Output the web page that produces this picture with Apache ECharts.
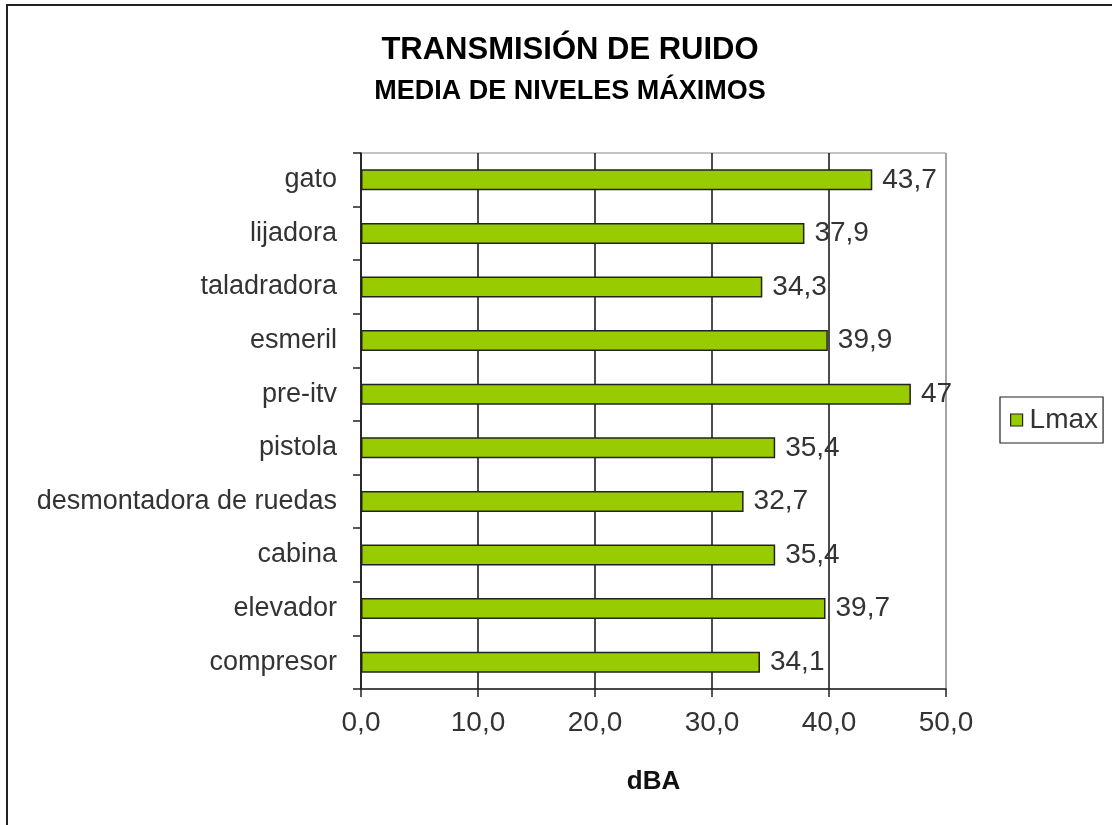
<!DOCTYPE html>
<html>
  <head>
    <meta charset="utf-8" />
    <title>Transmisión de ruido</title>
    <script src="https://cdn.jsdelivr.net/npm/echarts@6/dist/echarts.min.js"></script>
  </head>
  <body style="margin:0">
    <div id="main" style="width:1112px;height:825px;"></div>
    <script type="text/javascript">
      // data, bottom to top as in the picture
      var categories = ['compresor', 'elevador', 'cabina', 'desmontadora de ruedas', 'pistola',
                        'pre-itv', 'esmeril', 'taladradora', 'lijadora', 'gato'];
      var lmax = [34.1, 39.7, 35.4, 32.7, 35.4, 47, 39.9, 34.3, 37.9, 43.7];
      var xTicks = [0, 10, 20, 30, 40, 50];

      var font = 'Liberation Sans, Arial, sans-serif';
      var myChart = echarts.init(document.getElementById('main'));
      var option = {
        animation: false,
        backgroundColor: '#fff',
        textStyle: { fontFamily: font },
        graphic: [{
          type: 'rect',
          shape: { x: 7, y: 5, width: 1300, height: 1000 },
          style: { fill: 'none', stroke: '#222', lineWidth: 2 },
          silent: true
        }],
        title: [{
          text: 'TRANSMISIÓN DE RUIDO',
          left: 565, top: 30, textAlign: 'center',
          textStyle: { fontSize: 31, fontWeight: 'bold', color: '#000', fontFamily: font }
        }, {
          text: 'MEDIA DE NIVELES MÁXIMOS',
          left: 565, top: 73, textAlign: 'center',
          textStyle: { fontSize: 27, fontWeight: 'bold', color: '#000', fontFamily: font }
        }],
        legend: {
          left: 1000, top: 397,
          padding: [9, 5, 9, 10],
          borderColor: '#222', borderWidth: 1.2,
          itemWidth: 12, itemHeight: 12, itemGap: 5,
          icon: 'rect',
          itemStyle: { borderColor: '#222', borderWidth: 1.2 },
          textStyle: { fontSize: 28, color: '#333', fontFamily: font, padding: [0, 0, 0, 2] },
          data: ['Lmax']
        },
        grid: {
          left: 361, right: 166, top: 153, bottom: 136,
          show: true, borderColor: '#888', borderWidth: 1
        },
        xAxis: {
          type: 'value',
          min: xTicks[0], max: xTicks[xTicks.length - 1], interval: 10,
          name: 'dBA',
          nameLocation: 'middle',
          nameGap: 80,
          nameTextStyle: { fontSize: 26, fontWeight: 'bold', color: '#111' },
          axisLine: { show: true, lineStyle: { color: '#222', width: 1.5 } },
          axisTick: { show: true, length: 8, lineStyle: { color: '#222', width: 1.5 } },
          axisLabel: {
            margin: 20, fontSize: 28, color: '#333',
            formatter: function (v) { return v.toFixed(1).replace('.', ','); }
          },
          splitLine: {
            show: true,
            lineStyle: { color: ['#111', '#111', '#111', '#111', '#111', '#999'], width: 1.5 }
          }
        },
        yAxis: {
          type: 'category',
          data: categories,
          axisLine: { show: true, lineStyle: { color: '#222', width: 1.5 } },
          axisTick: { show: true, length: 8, lineStyle: { color: '#222', width: 1.5 } },
          axisLabel: { margin: 24, fontSize: 27, color: '#333' },
          splitLine: { show: false }
        },
        series: [{
          name: 'Lmax',
          type: 'bar',
          data: lmax,
          barWidth: 21,
          itemStyle: { color: '#99cc00', borderColor: '#222', borderWidth: 1.5 },
          label: {
            show: true, position: 'right', distance: 10,
            fontSize: 28, color: '#333',
            formatter: function (p) { return String(p.value).replace('.', ','); }
          }
        }]
      };
      myChart.setOption(option);
    </script>
  </body>
</html>
